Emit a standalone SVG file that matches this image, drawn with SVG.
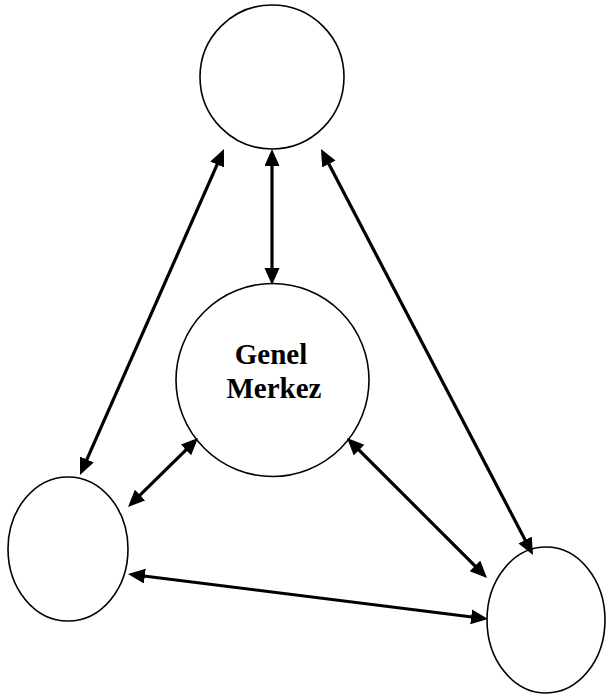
<svg xmlns="http://www.w3.org/2000/svg" width="606" height="694" viewBox="0 0 606 694">
  <style>
    .node { fill: #ffffff; stroke: #000000; stroke-width: 1.6; }
    .link { fill: none; stroke: #000000; stroke-width: 3.2; marker-start: url(#head); marker-end: url(#head); }
    .label { font-family: "Liberation Serif", "Times New Roman", serif; font-weight: bold; font-size: 29px; fill: #000000; text-anchor: middle; }
  </style>
  <defs>
    <marker id="head" markerUnits="userSpaceOnUse" markerWidth="18" markerHeight="16" refX="7" refY="7.5" orient="auto-start-reverse">
      <path d="M0,0 L17,7.5 L0,15 Z" fill="#000000"/>
    </marker>
  </defs>
  <rect width="606" height="694" fill="#ffffff"/>

  <g id="node-top">
    <circle class="node" cx="272" cy="77" r="72"/>
  </g>
  <g id="node-center">
    <circle class="node" cx="272.5" cy="380" r="96.5"/>
    <text class="label" x="271" y="364">Genel</text>
    <text class="label" x="274" y="398">Merkez</text>
  </g>
  <g id="node-left">
    <ellipse class="node" cx="68" cy="549" rx="60" ry="72"/>
  </g>
  <g id="node-right">
    <ellipse class="node" cx="546" cy="620" rx="59" ry="73"/>
  </g>

  <g id="connectors">
    <line class="link" x1="272" y1="159" x2="272" y2="275"/>
    <line class="link" x1="219.96" y1="158.15" x2="84.04" y2="465.85"/>
    <line class="link" x1="325.63" y1="157.86" x2="528.37" y2="546.14"/>
    <line class="link" x1="190.88" y1="445.02" x2="135.12" y2="499.98"/>
    <line class="link" x1="354.07" y1="445.07" x2="479.93" y2="570.93"/>
    <line class="link" x1="137.92" y1="575.24" x2="478.08" y2="617.76"/>
  </g>
</svg>
